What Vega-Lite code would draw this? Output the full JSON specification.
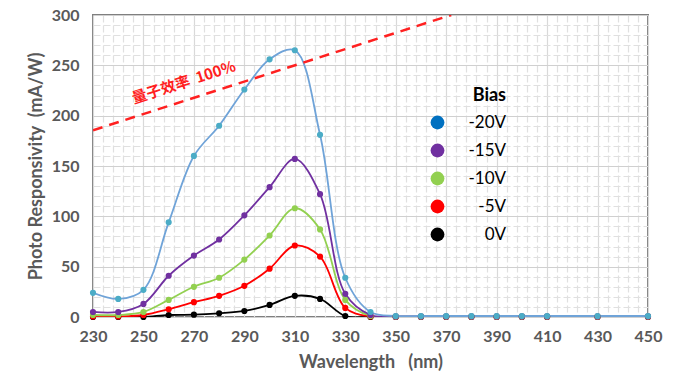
{
  "$schema": "https://vega.github.io/schema/vega-lite/v6.json",
  "width": 555,
  "height": 302,
  "autosize": "none",
  "padding": {"left": 93, "top": 15, "right": 29, "bottom": 60},
  "background": "white",
  "config": {
    "view": {"stroke": "#7f7f7f", "strokeWidth": 2},
    "font": "Lato"
  },
  "datasets": {
    "resp": [
      {"w": 230, "b": "0V", "r": 0}, {"w": 240, "b": "0V", "r": 0}, {"w": 250, "b": "0V", "r": 0}, {"w": 260, "b": "0V", "r": 2}, {"w": 270, "b": "0V", "r": 2.3}, {"w": 280, "b": "0V", "r": 3.7}, {"w": 290, "b": "0V", "r": 6}, {"w": 300, "b": "0V", "r": 12}, {"w": 310, "b": "0V", "r": 21}, {"w": 320, "b": "0V", "r": 18}, {"w": 330, "b": "0V", "r": 1}, {"w": 340, "b": "0V", "r": 0}, {"w": 350, "b": "0V", "r": 0}, {"w": 360, "b": "0V", "r": 0}, {"w": 370, "b": "0V", "r": 0}, {"w": 380, "b": "0V", "r": 0}, {"w": 390, "b": "0V", "r": 0}, {"w": 400, "b": "0V", "r": 0}, {"w": 410, "b": "0V", "r": 0}, {"w": 430, "b": "0V", "r": 0}, {"w": 450, "b": "0V", "r": 0},
      {"w": 230, "b": "-5V", "r": 0.5}, {"w": 240, "b": "-5V", "r": 0.5}, {"w": 250, "b": "-5V", "r": 2}, {"w": 260, "b": "-5V", "r": 7.7}, {"w": 270, "b": "-5V", "r": 14.7}, {"w": 280, "b": "-5V", "r": 21}, {"w": 290, "b": "-5V", "r": 31}, {"w": 300, "b": "-5V", "r": 48}, {"w": 310, "b": "-5V", "r": 71}, {"w": 320, "b": "-5V", "r": 60}, {"w": 330, "b": "-5V", "r": 9}, {"w": 340, "b": "-5V", "r": 0.5}, {"w": 350, "b": "-5V", "r": 0.2}, {"w": 360, "b": "-5V", "r": 0.2}, {"w": 370, "b": "-5V", "r": 0.2}, {"w": 380, "b": "-5V", "r": 0.2}, {"w": 390, "b": "-5V", "r": 0.2}, {"w": 400, "b": "-5V", "r": 0.2}, {"w": 410, "b": "-5V", "r": 0.2}, {"w": 430, "b": "-5V", "r": 0.2}, {"w": 450, "b": "-5V", "r": 0.2},
      {"w": 230, "b": "-10V", "r": 2}, {"w": 240, "b": "-10V", "r": 2}, {"w": 250, "b": "-10V", "r": 5}, {"w": 260, "b": "-10V", "r": 17}, {"w": 270, "b": "-10V", "r": 30}, {"w": 280, "b": "-10V", "r": 39}, {"w": 290, "b": "-10V", "r": 57}, {"w": 300, "b": "-10V", "r": 81}, {"w": 310, "b": "-10V", "r": 108}, {"w": 320, "b": "-10V", "r": 87}, {"w": 330, "b": "-10V", "r": 17}, {"w": 340, "b": "-10V", "r": 1}, {"w": 350, "b": "-10V", "r": 0.4}, {"w": 360, "b": "-10V", "r": 0.4}, {"w": 370, "b": "-10V", "r": 0.4}, {"w": 380, "b": "-10V", "r": 0.4}, {"w": 390, "b": "-10V", "r": 0.4}, {"w": 400, "b": "-10V", "r": 0.4}, {"w": 410, "b": "-10V", "r": 0.4}, {"w": 430, "b": "-10V", "r": 0.4}, {"w": 450, "b": "-10V", "r": 0.4},
      {"w": 230, "b": "-15V", "r": 5}, {"w": 240, "b": "-15V", "r": 5}, {"w": 250, "b": "-15V", "r": 13}, {"w": 260, "b": "-15V", "r": 41}, {"w": 270, "b": "-15V", "r": 61}, {"w": 280, "b": "-15V", "r": 77}, {"w": 290, "b": "-15V", "r": 101}, {"w": 300, "b": "-15V", "r": 129}, {"w": 310, "b": "-15V", "r": 157}, {"w": 320, "b": "-15V", "r": 122}, {"w": 330, "b": "-15V", "r": 23}, {"w": 340, "b": "-15V", "r": 2}, {"w": 350, "b": "-15V", "r": 0.6}, {"w": 360, "b": "-15V", "r": 0.6}, {"w": 370, "b": "-15V", "r": 0.6}, {"w": 380, "b": "-15V", "r": 0.6}, {"w": 390, "b": "-15V", "r": 0.6}, {"w": 400, "b": "-15V", "r": 0.6}, {"w": 410, "b": "-15V", "r": 0.6}, {"w": 430, "b": "-15V", "r": 0.6}, {"w": 450, "b": "-15V", "r": 0.6},
      {"w": 230, "b": "-20V", "r": 24}, {"w": 240, "b": "-20V", "r": 18}, {"w": 250, "b": "-20V", "r": 27}, {"w": 260, "b": "-20V", "r": 94}, {"w": 270, "b": "-20V", "r": 160}, {"w": 280, "b": "-20V", "r": 190}, {"w": 290, "b": "-20V", "r": 226}, {"w": 300, "b": "-20V", "r": 256}, {"w": 310, "b": "-20V", "r": 265}, {"w": 320, "b": "-20V", "r": 181}, {"w": 330, "b": "-20V", "r": 39}, {"w": 340, "b": "-20V", "r": 5}, {"w": 350, "b": "-20V", "r": 1}, {"w": 360, "b": "-20V", "r": 1}, {"w": 370, "b": "-20V", "r": 1}, {"w": 380, "b": "-20V", "r": 1}, {"w": 390, "b": "-20V", "r": 1}, {"w": 400, "b": "-20V", "r": 1}, {"w": 410, "b": "-20V", "r": 1}, {"w": 430, "b": "-20V", "r": 1}, {"w": 450, "b": "-20V", "r": 1}
    ],
    "qe": [
      {"w": 230, "r": 185.5},
      {"w": 372, "r": 300}
    ],
    "qelabel": [
      {"w": 266, "r": 233, "t": "量子效率\u00a0\u00a0100%"}
    ]
  },
  "encoding": {
    "x": {
      "field": "w", "type": "quantitative",
      "scale": {"domain": [230, 450], "nice": false, "zero": false},
      "axis": {
        "title": "Wavelength\u00a0\u00a0\u00a0(nm)",
        "values": [230,234,238,242,246,250,254,258,262,266,270,274,278,282,286,290,294,298,302,306,310,314,318,322,326,330,334,338,342,346,350,354,358,362,366,370,374,378,382,386,390,394,398,402,406,410,414,418,422,426,430,434,438,442,446,450],
        "labelExpr": "(datum.value - 230) % 20 === 0 ? datum.label : ''",
        "labelFont": "Lato", "labelFontWeight": "bold", "labelFontSize": 16, "labelColor": "#595959",
        "labelPadding": 11, "labelOverlap": false, "labelFlush": false,
        "ticks": false, "domain": false,
        "grid": true,
        "gridColor": {"condition": {"test": "(datum.value - 230) % 20 === 0", "value": "#d9d9d9"}, "value": "#e0e0e0"},
        "gridDash": {"condition": {"test": "(datum.value - 230) % 20 === 0", "value": []}, "value": [7, 3]},
        "gridWidth": 1.2,
        "titleFont": "Lato", "titleFontWeight": "bold", "titleFontSize": 18, "titleColor": "#595959",
        "titlePadding": 9
      }
    },
    "y": {
      "field": "r", "type": "quantitative",
      "scale": {"domain": [0, 300], "nice": false},
      "axis": {
        "title": "Photo Responsivity\u00a0\u00a0(mA/W)",
        "values": [0,10,20,30,40,50,60,70,80,90,100,110,120,130,140,150,160,170,180,190,200,210,220,230,240,250,260,270,280,290,300],
        "labelExpr": "datum.value % 50 === 0 ? datum.label : ''",
        "labelFont": "Lato", "labelFontWeight": "bold", "labelFontSize": 16, "labelColor": "#595959",
        "labelPadding": 14,
        "ticks": false, "domain": false,
        "grid": true,
        "gridColor": {"condition": {"test": "datum.value % 50 === 0", "value": "#d0d0d0"}, "value": "#e0e0e0"},
        "gridDash": {"condition": {"test": "datum.value % 50 === 0", "value": []}, "value": [7, 3]},
        "gridWidth": 1.2,
        "titleFont": "Lato", "titleFontWeight": "bold", "titleFontSize": 18, "titleColor": "#595959",
        "titlePadding": 6
      }
    }
  },
  "layer": [
    {
      "data": {"name": "resp"},
      "mark": {"type": "line", "interpolate": "catmull-rom", "strokeWidth": 1.8, "clip": true},
      "encoding": {
        "stroke": {
          "field": "b", "type": "nominal",
          "scale": {"domain": ["0V", "-5V", "-10V", "-15V", "-20V"], "range": ["#000000", "#ff0000", "#92d050", "#7030a0", "#6fa3d8"]},
          "legend": null
        },
        "order": {"field": "w"}
      }
    },
    {
      "data": {"name": "resp"},
      "mark": {"type": "point", "filled": true, "opacity": 1, "size": 38},
      "encoding": {
        "fill": {
          "field": "b", "type": "nominal",
          "scale": {"domain": ["0V", "-5V", "-10V", "-15V", "-20V"], "range": ["#000000", "#ff0000", "#92d050", "#7030a0", "#4bacc6"]},
          "legend": null
        }
      }
    },
    {
      "data": {"name": "resp"},
      "mark": {"type": "point", "filled": true, "opacity": 0, "size": 0},
      "encoding": {
        "color": {
          "field": "b", "type": "nominal",
          "scale": {"domain": ["-20V", "-15V", "-10V", "-5V", "0V"], "range": ["#0070c0", "#7030a0", "#92d050", "#ff0000", "#000000"]},
          "legend": {
            "title": "Bias",
            "orient": "none",
            "legendX": 336,
            "legendY": 72,
            "symbolType": "circle",
            "symbolSize": 190,
            "symbolOpacity": 1,
            "symbolStrokeWidth": 0,
            "labelFont": "Lato", "labelFontSize": 17, "labelColor": "#000000",
            "labelAlign": "right",
            "labelOffset": 60,
            "rowPadding": 10,
            "titleFont": "Lato", "titleFontSize": 18, "titleFontWeight": "bold", "titleColor": "#000000",
            "titleAnchor": "end",
            "titlePadding": 9
          }
        }
      }
    },
    {
      "data": {"name": "qe"},
      "mark": {"type": "line", "color": "#ff2020", "strokeWidth": 2.5, "strokeDash": [10, 7], "clip": true},
      "encoding": {}
    },
    {
      "data": {"name": "qelabel"},
      "mark": {"type": "text", "angle": 342, "color": "#ff2020", "font": "Noto Sans CJK SC", "fontWeight": "bold", "fontSize": 15},
      "encoding": {
        "text": {"field": "t"}
      }
    }
  ]
}
